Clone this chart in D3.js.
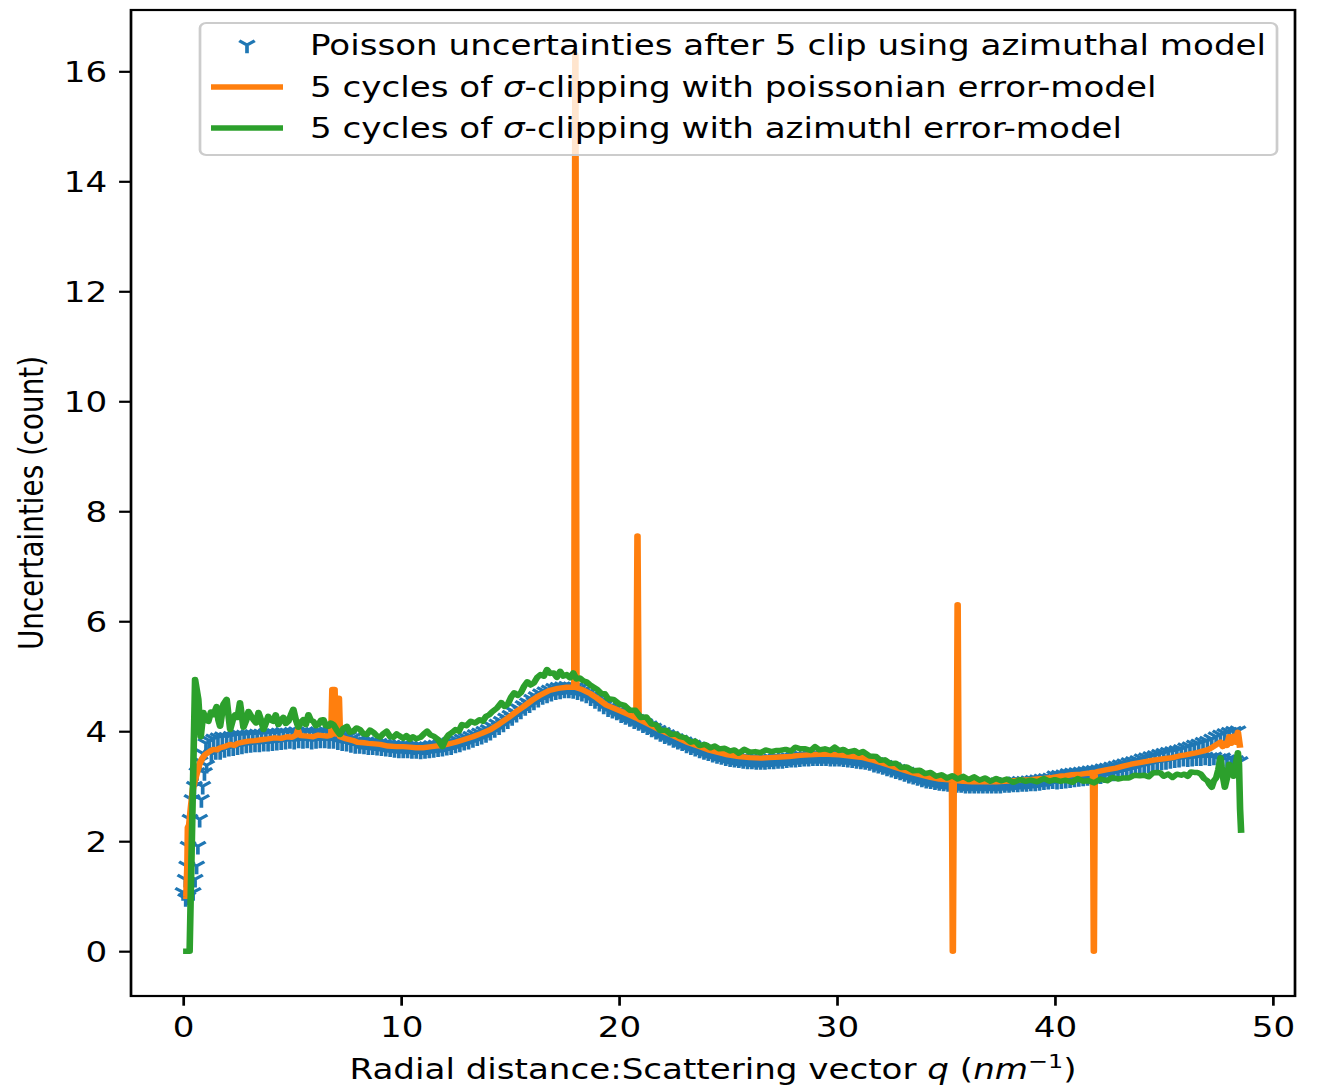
<!DOCTYPE html>
<html>
<head>
<meta charset="utf-8">
<script src="https://cdn.jsdelivr.net/npm/d3@7"></script>
<style>
html,body{margin:0;padding:0;background:#fff;}
svg text{font-family:"DejaVu Sans",sans-serif;fill:#000;}
</style>
</head>
<body>
<svg id="chart" width="1317" height="1086"></svg>
<script>
// ---------------- DATA ----------------
const xTicks = [0, 10, 20, 30, 40, 50];
const yTicks = [0, 2, 4, 6, 8, 10, 12, 14, 16];
const legendLabels = [
  "Poisson uncertainties after 5 clip using azimuthal model",
  "5 cycles of σ-clipping with poissonian error-model",
  "5 cycles of σ-clipping with azimuthl error-model"
];
// blue markers (Poisson uncertainties), steep rise at low q
const riseQ = [0.0,0.1,0.17,0.23,0.32,0.41,0.52,0.64,0.78,0.9,1.05, 0.12,0.22,0.46,0.55,0.62,0.68,0.76,0.84,0.9,0.98,1.08];
const riseV = [1.07,1.31,1.55,1.91,2.40,2.76,3.00,3.25,3.45,3.60,3.78, 0.96,0.99,1.07,1.31,1.55,1.91,2.40,2.76,3.00,3.25,3.38];
// blue markers, body: sampled every 0.1 starting at q = 1.2
const blueStartQ = 1.2, blueStepQ = 0.1;
const blueV = [
3.83,3.58,3.86,3.63,3.88,3.63,3.90,3.67,
3.89,3.69,3.91,3.70,3.92,3.72,3.93,3.73,3.93,3.75,
3.94,3.76,3.94,3.77,3.95,3.77,3.95,3.78,3.96,3.78,
3.96,3.79,3.96,3.80,3.97,3.81,3.98,3.82,3.97,3.83,
3.98,3.82,3.99,3.84,3.98,3.83,3.99,3.84,3.98,3.82,
3.97,3.83,3.99,3.84,3.98,3.84,3.99,3.83,3.98,3.83,
3.97,3.81,3.95,3.79,3.93,3.78,3.91,3.76,3.88,3.74,
3.83,3.74,3.82,3.73,3.81,3.72,3.80,3.72,3.79,3.71,
3.78,3.70,3.77,3.69,3.76,3.68,3.75,3.67,3.74,3.66,
3.74,3.66,3.73,3.66,3.73,3.65,3.72,3.65,3.73,3.64,
3.72,3.65,3.72,3.66,3.74,3.67,3.75,3.68,3.76,3.69,
3.77,3.71,3.79,3.72,3.81,3.75,3.83,3.77,3.86,3.80,
3.88,3.82,3.91,3.85,3.94,3.88,3.97,3.91,4.00,3.94,
4.03,3.98,4.08,4.03,4.13,4.08,4.18,4.13,4.24,4.19,
4.29,4.25,4.35,4.31,4.41,4.37,4.47,4.43,4.52,4.48,
4.58,4.53,4.63,4.58,4.68,4.63,4.72,4.66,4.75,4.69,
4.78,4.72,4.80,4.73,4.81,4.75,4.82,4.75,4.81,4.74,
4.80,4.72,4.78,4.69,4.75,4.66,4.71,4.61,4.66,4.56,
4.61,4.51,4.56,4.46,4.51,4.41,4.45,4.38,4.42,4.35,
4.37,4.30,4.32,4.27,4.29,4.23,4.25,4.19,4.22,4.16,
4.18,4.12,4.14,4.08,4.10,4.04,4.06,4.00,4.02,3.96,
3.98,3.92,3.94,3.89,3.91,3.85,3.87,3.82,3.84,3.79,
3.81,3.75,3.78,3.72,3.75,3.69,3.72,3.66,3.69,3.63,
3.66,3.61,3.64,3.58,3.61,3.56,3.59,3.54,3.57,3.52,
3.55,3.50,3.53,3.49,3.52,3.48,3.51,3.47,3.51,3.46,
3.50,3.46,3.49,3.45,3.49,3.45,3.49,3.45,3.50,3.46,
3.50,3.46,3.51,3.47,3.51,3.47,3.52,3.48,3.52,3.49,
3.53,3.49,3.54,3.50,3.55,3.51,3.55,3.51,3.56,3.52,
3.56,3.52,3.56,3.52,3.56,3.52,3.56,3.51,3.55,3.51,
3.55,3.51,3.54,3.50,3.54,3.49,3.53,3.48,3.52,3.47,
3.51,3.46,3.49,3.45,3.48,3.43,3.46,3.40,3.43,3.38,
3.41,3.36,3.38,3.33,3.36,3.31,3.34,3.28,3.31,3.26,
3.28,3.23,3.26,3.20,3.23,3.18,3.21,3.16,3.18,3.13,
3.16,3.11,3.14,3.10,3.13,3.08,3.11,3.07,3.10,3.06,
3.09,3.05,3.08,3.04,3.08,3.03,3.07,3.03,3.06,3.02,
3.06,3.02,3.06,3.02,3.06,3.02,3.06,3.02,3.06,3.02,
3.06,3.02,3.06,3.02,3.06,3.02,3.07,3.03,3.07,3.03,
3.07,3.04,3.08,3.04,3.09,3.05,3.09,3.05,3.10,3.06,
3.11,3.06,3.12,3.07,3.13,3.08,3.14,3.09,3.15,3.10,
3.19,3.09,3.20,3.10,3.21,3.11,3.23,3.12,3.24,3.13,
3.25,3.14,3.26,3.15,3.27,3.16,3.28,3.17,3.29,3.18,
3.30,3.19,3.32,3.21,3.33,3.23,3.35,3.24,3.37,3.26,
3.39,3.28,3.41,3.29,3.43,3.31,3.45,3.33,3.47,3.35,
3.50,3.37,3.52,3.39,3.54,3.41,3.56,3.43,3.58,3.44,
3.60,3.45,3.62,3.47,3.63,3.48,3.65,3.49,3.67,3.51,
3.70,3.50,3.72,3.51,3.75,3.52,3.77,3.52,3.80,3.53,
3.82,3.52,3.86,3.53,3.90,3.50,3.93,3.52,3.96,3.48,
3.98,3.50,4.00,3.47,4.01,3.45
];
// orange: sigma-clipping with poissonian error model
const orangeQ = [0.0,0.15,0.2,0.22,0.28,0.36,0.45,0.55,0.64,0.75,0.87,1.0,1.1,1.25,1.38,1.55,1.7,1.9,2.16,2.35,2.5,2.75,3.0,3.3,3.67,3.9,4.2,4.5,4.77,5.0,5.2,5.27,5.33,5.4,5.7,5.96,6.2,6.4,6.6,6.8,6.85,6.95,7.0,7.05,7.15,7.2,7.5,7.8,8.0,8.3,8.5,8.8,9.04,9.4,9.8,10.1,10.4,10.7,11.0,11.4,11.8,12.1,12.5,12.9,13.3,13.7,14.1,14.5,14.9,15.3,15.6,16.0,16.4,16.8,17.2,17.6,17.95,18.0,18.05,18.3,18.7,19.0,19.4,19.7,20.0,20.4,20.8,20.85,20.9,21.3,21.9,22.3,22.8,23.2,23.7,24.1,24.6,25.0,25.5,26.0,26.5,26.9,27.4,27.8,28.3,28.7,29.2,29.6,30.1,30.6,31.2,31.6,32.0,32.4,32.7,33.1,33.5,33.9,34.3,34.7,35.0,35.28,35.32,35.36,35.5,35.54,35.58,35.8,36.2,36.5,36.9,37.3,37.7,38.1,38.5,38.9,39.2,39.5,39.9,40.2,40.5,40.8,41.2,41.6,41.75,41.79,41.83,42.0,42.4,42.8,43.1,43.5,43.9,44.2,44.6,45.0,45.4,45.7,46.0,46.4,46.7,47.0,47.2,47.4,47.6,47.7,47.8,47.9,48.0,48.1,48.2,48.3,48.4,48.5];
const orangeV = [1.0,1.0,1.6,2.25,2.3,2.62,2.95,3.12,3.25,3.40,3.5,3.57,3.6,3.64,3.67,3.66,3.7,3.72,3.76,3.74,3.78,3.80,3.82,3.83,3.85,3.86,3.88,3.87,3.90,3.89,3.93,4.02,3.95,3.92,3.91,3.90,3.93,3.92,3.91,3.93,4.76,4.76,3.95,4.60,4.60,3.90,3.86,3.83,3.80,3.79,3.78,3.77,3.76,3.73,3.72,3.72,3.71,3.70,3.70,3.72,3.74,3.76,3.80,3.85,3.90,3.96,4.03,4.13,4.24,4.36,4.44,4.56,4.66,4.74,4.78,4.80,4.80,16.3,4.79,4.76,4.68,4.60,4.48,4.43,4.38,4.31,4.24,7.55,4.22,4.14,4.02,3.95,3.86,3.79,3.72,3.66,3.61,3.57,3.54,3.52,3.51,3.52,3.53,3.54,3.56,3.57,3.58,3.58,3.57,3.55,3.52,3.48,3.43,3.38,3.34,3.29,3.24,3.20,3.16,3.13,3.12,3.11,0.0,3.10,3.10,6.30,3.10,3.09,3.08,3.08,3.08,3.08,3.09,3.10,3.11,3.12,3.13,3.14,3.16,3.18,3.19,3.21,3.22,3.24,3.25,0.0,3.25,3.27,3.30,3.33,3.36,3.40,3.43,3.45,3.48,3.50,3.52,3.55,3.57,3.60,3.63,3.66,3.70,3.75,3.80,3.72,3.78,3.74,3.90,3.78,3.91,3.80,3.98,3.70];
// green: sigma-clipping with azimuthal error model
const greenQ = [0.0,0.3,0.55,0.70,0.81,0.93,1.05,1.16,1.28,1.39,1.54,1.62,1.70,1.85,2.0,2.08,2.16,2.28,2.39,2.5,2.61,2.77,2.9,3.0,3.12,3.23,3.35,3.46,3.58,3.69,3.8,3.91,4.02,4.14,4.25,4.37,4.48,4.60,4.72,4.83,4.95,5.06,5.18,5.29,5.4,5.52,5.63,5.75,5.86,5.98,6.1,6.21,6.33,6.44,6.55,6.67,6.78,6.90,7.05,7.2,7.35,7.51,7.66,7.81,7.96,8.12,8.27,8.43,8.58,8.73,8.88,9.04,9.2,9.34,9.5,9.65,9.8,9.95,10.1,10.25,10.4,10.55,10.7,10.9,11.05,11.2,11.35,11.5,11.7,11.9,12.05,12.2,12.35,12.5,12.65,12.8,13.0,13.2,13.4,13.6,13.75,13.9,14.05,14.2,14.4,14.6,14.75,14.9,15.05,15.2,15.35,15.5,15.65,15.8,15.95,16.1,16.25,16.4,16.55,16.7,16.85,17.0,17.15,17.3,17.45,17.6,17.75,17.9,18.05,18.2,18.35,18.5,18.65,18.8,19.0,19.2,19.35,19.5,19.75,20.0,20.25,20.5,20.75,21.0,21.25,21.5,21.7,21.9,22.15,22.4,22.6,22.8,23.05,23.3,23.5,23.7,23.95,24.2,24.4,24.6,24.85,25.1,25.3,25.5,25.75,26.0,26.25,26.5,26.75,27.0,27.2,27.4,27.65,27.9,28.1,28.3,28.55,28.8,29.0,29.2,29.45,29.7,29.9,30.1,30.3,30.5,30.8,31.0,31.2,31.5,31.8,32.0,32.2,32.45,32.7,32.95,33.2,33.5,33.8,34.05,34.3,34.55,34.8,35.05,35.3,35.55,35.8,36.05,36.3,36.55,36.8,37.05,37.3,37.55,37.8,38.1,38.4,38.65,38.9,39.2,39.5,39.75,40.0,40.25,40.5,40.8,41.05,41.3,41.55,41.8,42.1,42.4,42.65,42.9,43.15,43.4,43.65,43.9,44.1,44.3,44.5,44.7,44.85,45.0,45.2,45.4,45.6,45.8,45.95,46.1,46.25,46.4,46.55,46.7,46.85,47.0,47.1,47.2,47.3,47.4,47.5,47.6,47.7,47.8,47.9,48.0,48.1,48.2,48.3,48.4,48.45,48.5,48.55];
const greenV = [0.0,0.0,4.94,4.58,3.90,4.34,4.20,4.18,4.35,4.30,4.45,4.20,4.09,4.49,4.58,4.30,4.03,4.20,4.30,4.25,4.52,4.07,4.20,4.36,4.28,4.21,4.15,4.34,4.20,4.03,4.15,4.27,4.20,4.18,4.30,4.12,4.20,4.25,4.14,4.18,4.30,4.40,4.20,4.07,4.16,4.21,4.12,4.30,4.20,4.18,4.10,4.12,4.20,4.21,4.10,4.09,4.15,4.12,4.02,3.94,4.05,4.09,3.98,4.00,4.06,4.03,3.95,3.94,4.02,3.98,3.92,3.89,3.96,4.00,3.90,3.89,3.95,3.91,3.87,3.92,3.85,3.90,3.86,3.89,3.95,4.00,3.93,3.91,3.85,3.72,3.86,3.94,3.98,4.03,4.00,4.12,4.10,4.18,4.15,4.21,4.18,4.27,4.30,4.36,4.42,4.52,4.45,4.49,4.62,4.70,4.65,4.70,4.82,4.90,4.84,4.88,4.98,5.03,5.00,5.12,5.05,5.06,4.98,5.09,5.00,5.03,4.97,5.06,4.95,4.97,4.92,4.90,4.85,4.81,
4.76,4.68,4.68,4.59,4.58,4.50,4.47,4.38,4.38,4.25,4.26,4.13,4.12,4.01,4.02,3.94,3.95,3.90,3.88,3.80,3.82,3.74,3.76,3.70,3.73,3.68,3.69,3.64,3.66,3.60,3.67,3.62,3.63,3.61,3.66,3.63,3.65,3.65,3.67,3.64,3.71,3.68,3.68,3.65,3.72,3.66,3.68,3.65,3.71,3.65,3.67,3.62,3.65,3.60,3.63,3.55,3.54,3.47,3.48,3.41,3.42,3.34,3.35,3.28,3.29,3.23,3.25,3.18,3.21,3.15,3.19,3.13,3.18,3.12,3.17,3.11,3.15,3.09,3.14,3.10,3.13,3.07,3.12,3.09,3.11,3.08,3.14,3.09,3.12,3.09,3.11,3.07,3.14,3.09,3.10,3.06,3.13,3.10,3.16,3.13,3.15,3.15,3.20,3.19,3.20,3.17,3.24,3.25,3.24,3.18,3.22,3.16,3.22,3.20,3.22,3.18,3.26,3.25,
3.25,3.22,3.14,3.10,3.03,2.98,3.10,3.15,3.30,3.52,3.20,2.98,3.15,3.40,3.25,3.18,3.40,3.61,3.40,2.58,2.15];

// ---------------- CHART ----------------
const C = {blue:"#1f77b4", orange:"#ff7f0e", green:"#2ca02c"};
const SX = 1.227;               // the reference figure is stretched horizontally
const vx = px => px / SX;       // screen x -> inner (unstretched) x
const svg = d3.select("#chart");
const root = svg.append("g").attr("transform", `scale(${SX},1)`);
const L = vx(131), R = vx(1295), T = 10, B = 996;
const x = d3.scaleLinear().domain([-2.39, 51.02]).range([L, R]);
const y = d3.scaleLinear().domain([-0.815, 17.115]).range([B, T]);
const FS = 27.8, LW = 5.4, MW = 3.0;

root.append("defs").append("clipPath").attr("id","clip")
  .append("rect").attr("x",L).attr("y",T).attr("width",R-L).attr("height",B-T);
const plot = root.append("g").attr("clip-path","url(#clip)");

const triDown = "M0,0L0,8.3M0,0L6.3,-4.2M0,0L-6.3,-4.2";
function markers(pts){
  plot.append("g").selectAll("path").data(pts).enter()
    .append("path").attr("d",triDown)
    .attr("transform",d=>`translate(${x(d[0])},${y(d[1])})`)
    .attr("fill","none").attr("stroke",C.blue).attr("stroke-width",MW);
}
markers(riseQ.map((q,i)=>[q, riseV[i]]));
markers(blueV.map((v,i)=>[blueStartQ + i*blueStepQ, v]));

const line = d3.line().x(d=>x(d[0])).y(d=>y(d[1]));
plot.append("path").datum(orangeQ.map((q,i)=>[q,orangeV[i]]))
  .attr("d",line).attr("fill","none").attr("stroke",C.orange)
  .attr("stroke-width",LW).attr("stroke-linejoin","round");
plot.append("path").datum(greenQ.map((q,i)=>[q,greenV[i]]))
  .attr("d",line).attr("fill","none").attr("stroke",C.green)
  .attr("stroke-width",LW).attr("stroke-linejoin","round");

// axes
const TL = 9.7;
const xAxis = d3.axisBottom(x).tickValues(xTicks).tickSize(TL).tickPadding(TL).tickFormat(d3.format("d"));
const yAxis = d3.axisLeft(y).tickValues(yTicks).tickSize(TL).tickPadding(TL).tickFormat(d3.format("d"));
const gx = root.append("g").attr("transform",`translate(0,${B})`).call(xAxis);
const gy = root.append("g").attr("transform",`translate(${L},0)`).call(yAxis);
[gx,gy].forEach(g=>{
  g.select(".domain").remove();
  g.selectAll(".tick line").attr("stroke","#000").attr("stroke-width",2.2);
  g.selectAll(".tick text").attr("font-size",FS).attr("font-family","DejaVu Sans").attr("fill","#000");
});
gx.selectAll(".tick text").attr("dy",null).attr("y", 40.6);
gy.selectAll(".tick text").attr("dy","0.36em");

root.append("rect").attr("x",L).attr("y",T).attr("width",R-L).attr("height",B-T)
  .attr("fill","none").attr("stroke","#000").attr("stroke-width",2.2);

// axis labels
const xl = root.append("text").attr("x",(L+R)/2).attr("y",1079).attr("text-anchor","middle").attr("font-size",FS);
xl.append("tspan").text("Radial distance:Scattering vector ");
xl.append("tspan").attr("font-style","italic").text("q");
xl.append("tspan").text(" (");
xl.append("tspan").attr("font-style","italic").text("nm");
xl.append("tspan").attr("font-size",FS*0.7).attr("dy",-11).text("−1");
xl.append("tspan").attr("dy",11).text(")");

root.append("text").attr("transform",`translate(${vx(43)},${(T+B)/2}) rotate(-90)`)
  .attr("text-anchor","middle").attr("font-size",FS).text("Uncertainties (count)");

// legend
const lg = root.append("g");
lg.append("rect").attr("x",vx(200)).attr("y",23).attr("width",vx(1277)-vx(200)).attr("height",132)
  .attr("rx",5).attr("fill","#fff").attr("fill-opacity",0.8)
  .attr("stroke","#cccccc").attr("stroke-width",2.2);
const rowY = [45, 87, 128];
lg.append("path").attr("d",triDown).attr("transform",`translate(${vx(247)},${rowY[0]})`)
  .attr("fill","none").attr("stroke",C.blue).attr("stroke-width",MW);
[C.orange, C.green].forEach((c,i)=>{
  lg.append("line").attr("x1",vx(211)).attr("x2",vx(283)).attr("y1",rowY[i+1]).attr("y2",rowY[i+1])
    .attr("stroke",c).attr("stroke-width",LW);
});
legendLabels.forEach((s,i)=>{
  const t = lg.append("text").attr("x",vx(310)).attr("y",rowY[i]+10).attr("font-size",FS);
  const parts = s.split("σ");
  t.append("tspan").text(parts[0]);
  if(parts.length>1){
    t.append("tspan").attr("font-style","italic").text("σ");
    t.append("tspan").text(parts[1]);
  }
});
</script>
</body>
</html>
